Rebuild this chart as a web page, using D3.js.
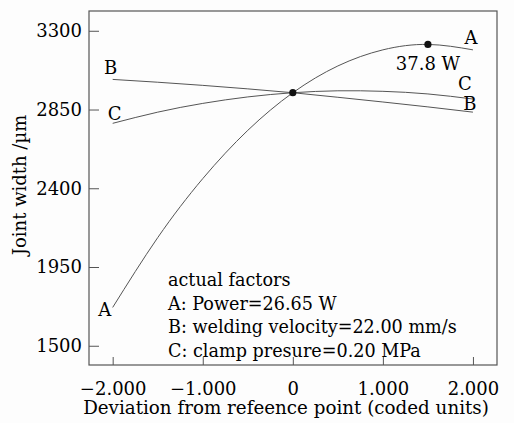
<!DOCTYPE html>
<html>
<head>
<meta charset="utf-8">
<script src="https://cdn.jsdelivr.net/npm/d3@7"></script>
<style>
  body { margin: 0; background: #fdfdfd; }
  svg { display: block; }
  text { font-family: "DejaVu Serif", serif; fill: #000; }
</style>
</head>
<body>
<div id="chart"></div>
<script>
// coded deviation (x) and joint width (um)
const xs = [-2, -1.5, -1, -0.5, 0, 0.5, 1, 1.5, 2];
const seriesA = [1719, 2118, 2455, 2731, 2946, 3099, 3191, 3222, 3191];
const seriesB = [3022, 3006, 2988, 2968, 2946, 2920, 2893, 2865, 2835];
const seriesC = [2771, 2835, 2885, 2922, 2946, 2957, 2954, 2939, 2910];
const xTicks = [-2, -1, 0, 1, 2];
const yTicks = [1500, 1950, 2400, 2850, 3300];
const factorLines = [
  "actual factors",
  "A: Power=26.65 W",
  "B: welding velocity=22.00 mm/s",
  "C: clamp presure=0.20 MPa"
];
const centerPoint = { x: 0, y: 2946 };
const maxPoint = { x: 1.5, y: 3222, label: "37.8 W" };

const W = 514, H = 423;
const margin = { top: 11, right: 17, bottom: 58, left: 89 };
const width = W - margin.left - margin.right;
const height = H - margin.top - margin.bottom;

const svg = d3.select("#chart").append("svg")
    .attr("width", W)
    .attr("height", H);

const g = svg.append("g")
    .attr("transform", `translate(${margin.left},${margin.top})`);

const x = d3.scaleLinear().domain([-2.263, 2.267]).range([0, width]);
const y = d3.scaleLinear().domain([1390, 3413]).range([height, 0]);

const fmt = d => d === 0 ? "0" : d3.format(".3f")(d).replace("-", "\u2212");

// axes with inward ticks
const xAxis = g.append("g")
    .attr("transform", `translate(0,${height})`)
    .call(d3.axisBottom(x).tickValues(xTicks).tickFormat(fmt).tickSizeInner(-8).tickSizeOuter(0).tickPadding(17));
const yAxis = g.append("g")
    .call(d3.axisLeft(y).tickValues(yTicks).tickFormat(d3.format("d")).tickSizeInner(-10).tickSizeOuter(0).tickPadding(7));

[xAxis, yAxis].forEach(a => {
  a.select(".domain").remove();
  a.selectAll("line").attr("stroke", "#555");
  a.selectAll("text").attr("font-family", "DejaVu Serif").attr("font-size", 18).attr("fill", "#000");
});

// frame
g.append("rect")
    .attr("width", width).attr("height", height)
    .attr("fill", "none").attr("stroke", "#555").attr("stroke-width", 1.2);

const line = d3.line()
    .x((d, i) => x(xs[i]))
    .y(d => y(d))
    .curve(d3.curveNatural);

[seriesA, seriesB, seriesC].forEach(s => {
  g.append("path")
      .attr("d", line(s))
      .attr("fill", "none")
      .attr("stroke", "#555")
      .attr("stroke-width", 1);
});

// points
[centerPoint, maxPoint].forEach(p => {
  g.append("circle")
      .attr("cx", x(p.x)).attr("cy", y(p.y))
      .attr("r", 3.6).attr("fill", "#111");
});
g.append("text")
    .attr("x", x(maxPoint.x)).attr("y", y(maxPoint.y) + 26)
    .attr("text-anchor", "middle")
    .attr("font-size", 18)
    .text(maxPoint.label);

// curve end labels
const endLabels = [
  { t: "B", x: -2, y: seriesB[0], dx: -2, dy: -5 },
  { t: "C", x: -2, y: seriesC[0], dx: 2, dy: -3 },
  { t: "A", x: -2, y: seriesA[0], dx: -8, dy: 9 },
  { t: "A", x: 2, y: seriesA[8], dx: -2, dy: -6 },
  { t: "C", x: 2, y: seriesC[8], dx: -8, dy: -9 },
  { t: "B", x: 2, y: seriesB[8], dx: -3, dy: -2 }
];
endLabels.forEach(l => {
  g.append("text")
      .attr("x", x(l.x) + l.dx).attr("y", y(l.y) + l.dy)
      .attr("text-anchor", "middle")
      .attr("font-size", 18)
      .text(l.t);
});

// legend text
g.selectAll(".factor")
  .data(factorLines)
  .join("text")
    .attr("class", "factor")
    .attr("x", 79)
    .attr("y", (d, i) => 275 + i * 23.7)
    .attr("font-size", 17.6)
    .text(d => d);

// axis titles
svg.append("text")
    .attr("x", 286)
    .attr("y", 414)
    .attr("text-anchor", "middle")
    .attr("font-size", 18.3)
    .text("Deviation from refeence point (coded units)");

svg.append("text")
    .attr("transform", "translate(26,185) rotate(-90)")
    .attr("text-anchor", "middle")
    .attr("font-size", 18)
    .text("Joint width /\u00b5m");
</script>
</body>
</html>
